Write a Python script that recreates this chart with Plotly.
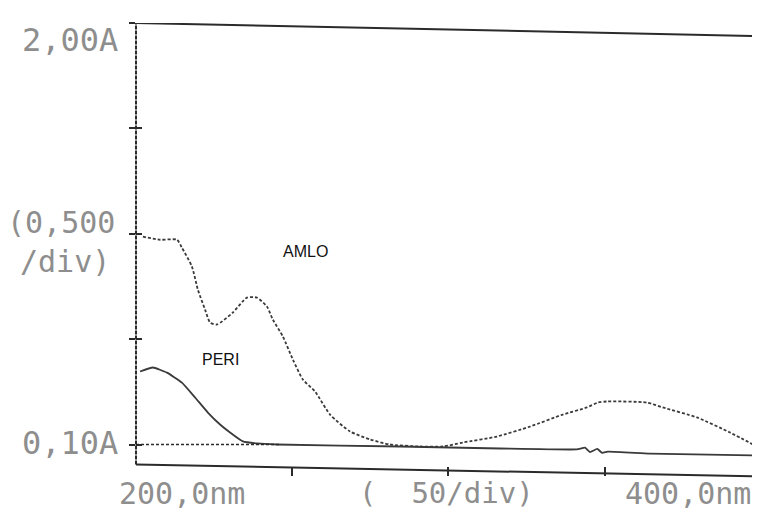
import plotly.graph_objects as go

# AMLO spectrum (wavelength nm, absorbance A)
amlo_nm = [202.2, 207.7, 213.1, 214.7, 217.9, 219.8, 222.1, 223.7, 225.9, 231.0, 235.5,
           238.7, 241.9, 243.8, 247.0, 250.2, 253.4, 257.3, 262.1, 268.5, 274.9, 281.3,
           290.9, 298.2, 304.6, 315.5, 326.1, 336.6, 344.3, 347.8, 350.7, 363.5, 368.6,
           379.5, 390.1, 398.7]
amlo_a = [1.037, 1.023, 1.023, 0.987, 0.902, 0.798, 0.708, 0.650, 0.641, 0.695, 0.762,
          0.762, 0.722, 0.663, 0.587, 0.483, 0.393, 0.339, 0.235, 0.159, 0.123, 0.100,
          0.091, 0.091, 0.109, 0.136, 0.181, 0.235, 0.267, 0.289, 0.294, 0.289, 0.267,
          0.222, 0.154, 0.091]

# PERI spectrum
peri_nm = [201.3, 205.4, 209.9, 214.7, 218.9, 223.0, 226.9, 230.1, 234.2, 238.7, 245.1,
           284.5, 316.5, 341.1, 343.7, 345.3, 347.6, 349.2, 351.0, 364.5, 399.7]
peri_a = [0.429, 0.447, 0.424, 0.379, 0.312, 0.244, 0.190, 0.154, 0.114, 0.105, 0.100,
          0.091, 0.082, 0.078, 0.086, 0.066, 0.080, 0.062, 0.068, 0.059, 0.050]

# axis settings
x_range = [200, 399.7]
y_range = [-0.06, 2.0]
y_tick_vals = [0.1, 0.575, 1.05, 1.525, 2.0]
x_tick_vals = [250, 300, 350]
baseline_a = 0.10

ink = "#2b2b2b"
label_gray = "#8e8e8e"
mono = "DejaVu Sans Mono, Liberation Mono, monospace"

fig = go.Figure()
fig.add_trace(go.Scatter(x=amlo_nm, y=amlo_a, mode="lines", name="AMLO",
                         line=dict(color="#3a3a3a", width=1.8, dash="3px,2px", shape="spline", smoothing=0.6)))
fig.add_trace(go.Scatter(x=peri_nm, y=peri_a, mode="lines", name="PERI",
                         line=dict(color="#3a3a3a", width=1.8, shape="spline", smoothing=0.4)))

shapes = [
    # left axis
    dict(type="line", xref="paper", yref="y", x0=0, x1=0, y0=0.01, y1=2.0,
         line=dict(color=ink, width=2, dash="4px,1px")),
    # top frame (slightly skewed scan)
    dict(type="line", xref="paper", yref="y", x0=0, x1=1, y0=2.0, y1=1.941,
         line=dict(color=ink, width=2)),
    # bottom frame
    dict(type="line", xref="paper", yref="y", x0=0, x1=1, y0=0.01, y1=-0.044,
         line=dict(color=ink, width=2)),
    # 0.10A reference line
    dict(type="line", xref="x", yref="y", x0=200, x1=246, y0=baseline_a, y1=baseline_a,
         line=dict(color=ink, width=1.5, dash="3px,2px")),
]

def py(pix):
    return (480 - pix) / 457

annotations = [
    dict(text="2,00A", xref="paper", yref="paper", x=-0.026, y=py(40),
         xanchor="right", yanchor="middle", showarrow=False, font=dict(family=mono, size=32, color=label_gray)),
    dict(text="(0,500", xref="paper", yref="paper", x=-0.030, y=py(222),
         xanchor="right", yanchor="middle", showarrow=False, font=dict(family=mono, size=30, color=label_gray)),
    dict(text="/div)", xref="paper", yref="paper", x=-0.038, y=py(261),
         xanchor="right", yanchor="middle", showarrow=False, font=dict(family=mono, size=30, color=label_gray)),
    dict(text="0,10A", xref="paper", yref="paper", x=-0.026, y=py(443),
         xanchor="right", yanchor="middle", showarrow=False, font=dict(family=mono, size=32, color=label_gray)),
    dict(text="200,0nm", xref="paper", yref="paper", x=0.074, y=py(493),
         xanchor="center", yanchor="middle", showarrow=False, font=dict(family=mono, size=30, color=label_gray)),
    dict(text="(  50/div)", xref="paper", yref="paper", x=0.498, y=py(493),
         xanchor="center", yanchor="middle", showarrow=False, font=dict(family=mono, size=29, color=label_gray)),
    dict(text="400,0nm", xref="paper", yref="paper", x=0.885, y=py(493),
         xanchor="center", yanchor="middle", showarrow=False, font=dict(family=mono, size=30, color=label_gray)),
    dict(text="AMLO", xref="x", yref="y", x=254.1, y=0.969, showarrow=False,
         font=dict(family="Liberation Sans, Arial", size=16, color="#111")),
    dict(text="PERI", xref="x", yref="y", x=226.9, y=0.483, showarrow=False,
         font=dict(family="Liberation Sans, Arial", size=16, color="#111")),
]

# page body has an 8px default margin, so the figure is sized/offset to compensate
fig.update_layout(
    width=752, height=504,
    margin=dict(l=128, r=0, t=15, b=32, pad=0, autoexpand=False),
    paper_bgcolor="white", plot_bgcolor="white",
    showlegend=False,
    shapes=shapes,
    annotations=annotations,
    xaxis=dict(range=x_range, showgrid=False, zeroline=False, showline=False,
               tickvals=x_tick_vals, ticks="outside", ticklen=9, tickwidth=1.5, tickcolor=ink,
               showticklabels=False, anchor="free", position=py(466), automargin=False),
    yaxis=dict(range=y_range, showgrid=False, zeroline=False, showline=False,
               tickvals=y_tick_vals, ticks="outside", ticklen=6, tickwidth=1.5, tickcolor=ink,
               showticklabels=False, automargin=False),
    yaxis2=dict(range=y_range, overlaying="y", side="left", showgrid=False, zeroline=False,
                showline=False, tickvals=y_tick_vals, ticks="inside", ticklen=6, tickwidth=1.5,
                tickcolor=ink, showticklabels=False, automargin=False),
)
# invisible trace to activate yaxis2
fig.add_trace(go.Scatter(x=[None], y=[None], yaxis="y2", showlegend=False, hoverinfo="skip"))

fig.write_html("out.html")
